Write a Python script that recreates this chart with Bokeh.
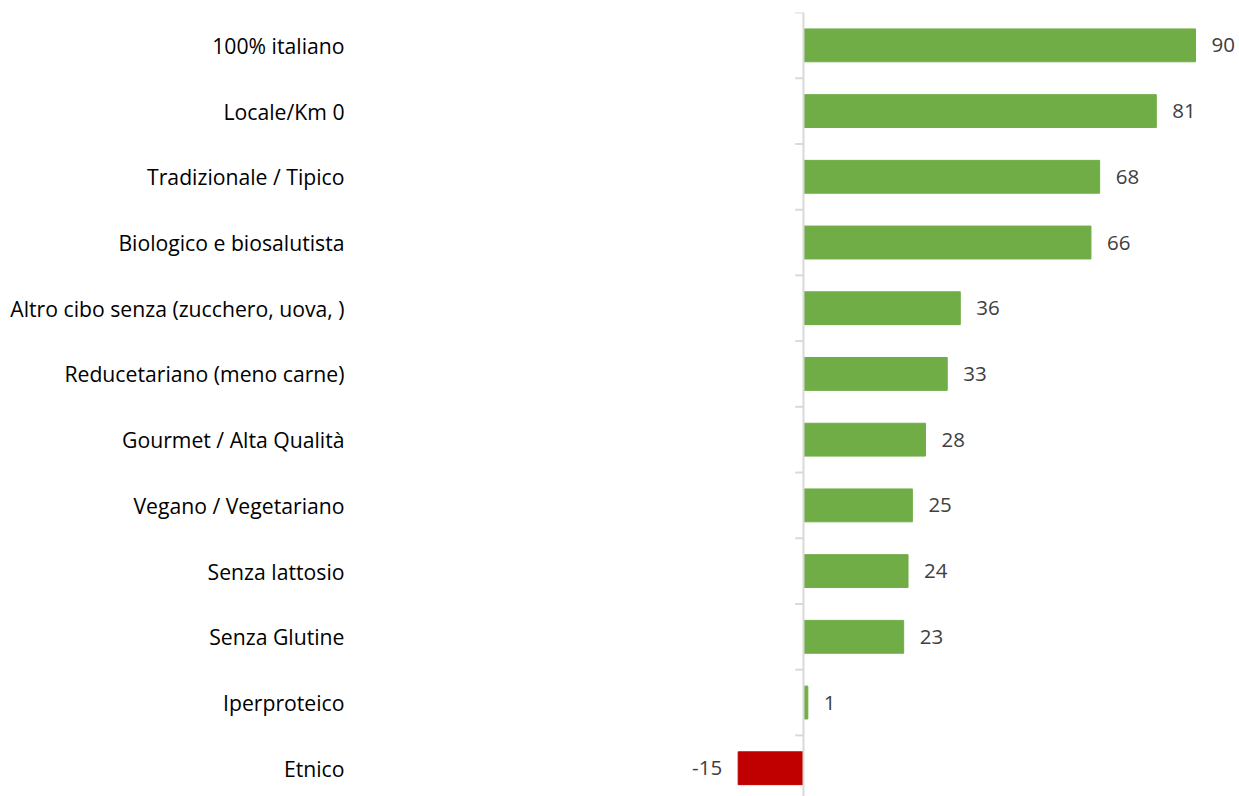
from bokeh.plotting import figure
from bokeh.models import ColumnDataSource, Range1d, FixedTicker, Span
from bokeh.core.properties import value
from bokeh.embed import file_html
from bokeh.resources import INLINE

# Categories (top to bottom) and their scores
categories = [
    "100% italiano",
    "Locale/Km 0",
    "Tradizionale / Tipico",
    "Biologico e biosalutista",
    "Altro cibo senza (zucchero, uova, )",
    "Reducetariano (meno carne)",
    "Gourmet / Alta Qualità",
    "Vegano / Vegetariano",
    "Senza lattosio",
    "Senza Glutine",
    "Iperproteico",
    "Etnico",
]
scores = [90, 81, 68, 66, 36, 33, 28, 25, 24, 23, 1, -15]

GREEN = "#70AD47"
RED = "#C00000"
FONT = "Open Sans"

pos = list(range(len(categories)))
src = ColumnDataSource(dict(
    y=pos,
    v=scores,
    color=[GREEN if s >= 0 else RED for s in scores],
    label=[str(s) for s in scores],
    off=[16 if s >= 0 else -16 for s in scores],
    align=["left" if s >= 0 else "right" for s in scores],
))

W, H = 1239, 796
p = figure(
    width=W, height=H,
    output_backend="svg", toolbar_location=None,
    x_range=Range1d(-101.7, 100.1),
    y_range=Range1d(len(categories) - 0.57, -0.5),
    min_border_left=360, min_border_right=0,
    min_border_top=12, min_border_bottom=0,
)
p.outline_line_color = None
p.background_fill_color = "white"
p.border_fill_color = "white"
p.grid.visible = False
p.xaxis.visible = False

# Category labels on the left axis
yax = p.yaxis[0]
yax.ticker = FixedTicker(ticks=pos)
yax.major_label_overrides = {i: c for i, c in enumerate(categories)}
yax.axis_line_color = None
yax.major_tick_line_color = None
yax.minor_tick_line_color = None
yax.major_tick_out = 0
yax.major_tick_in = 0
yax.major_label_standoff = 16
yax.major_label_text_font = FONT
yax.major_label_text_font_size = "21.2px"
yax.major_label_text_color = "#000000"

# Bars
p.hbar(y="y", left=0, right="v", height=0.5, color="color", source=src)

# Zero line with small tick marks between categories
p.add_layout(Span(location=0, dimension="height", line_color="#D9D9D9", line_width=2))
bounds = [i - 0.5 for i in range(len(categories) + 1)]
p.segment(x0=[-1.9] * len(bounds), x1=[0] * len(bounds), y0=bounds, y1=bounds,
          line_color="#D9D9D9", line_width=2)

# Value labels
p.text(x="v", y="y", text="label", source=src,
       x_offset="off", text_align="align", text_baseline="middle",
       text_font=value(FONT), text_font_size="20.5px", text_color="#404040")

open("out.html", "w").write(file_html(p, INLINE))
